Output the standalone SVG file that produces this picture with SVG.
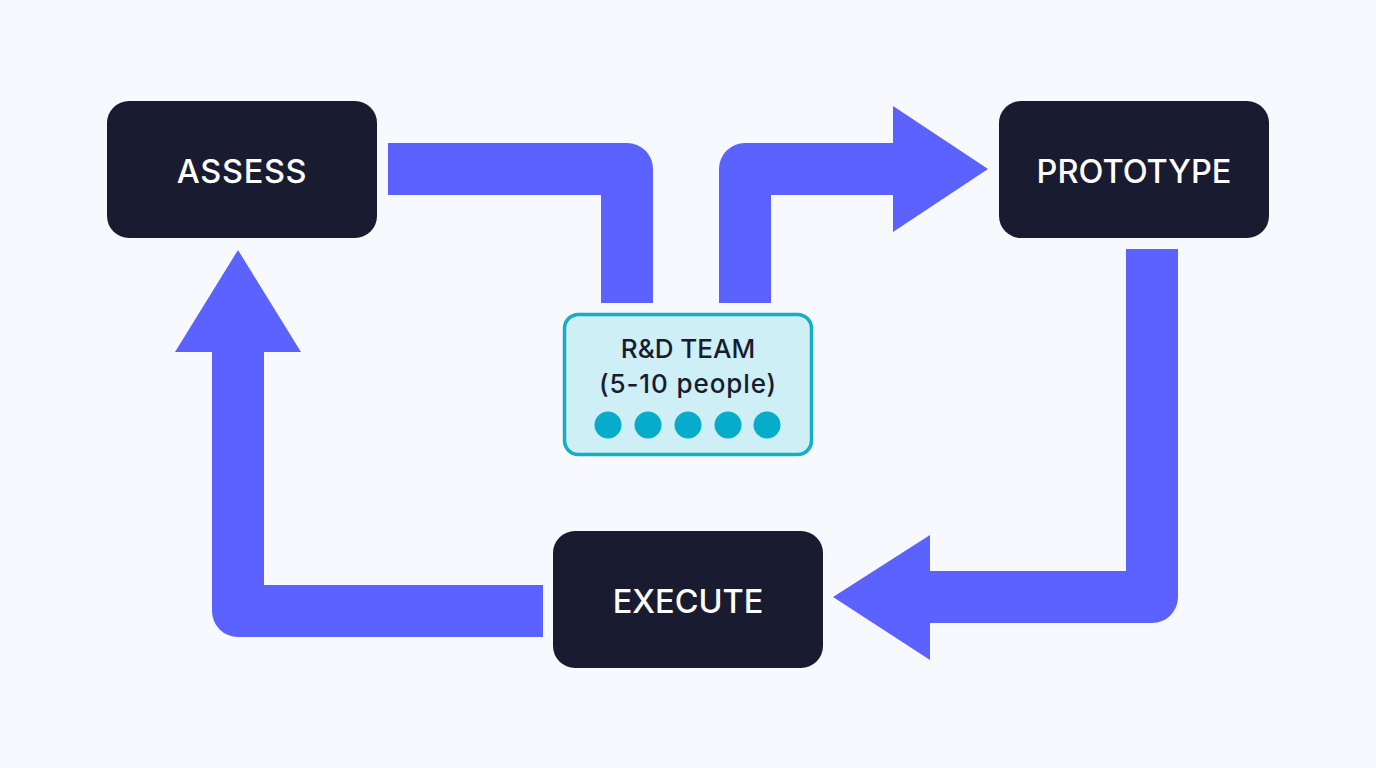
<svg xmlns="http://www.w3.org/2000/svg" width="1376" height="768" viewBox="0 0 1376 768">
<style>
.n{fill:#191c30}
.a{fill:#5b62ff}
.t{font-family:"Inter","Liberation Sans",sans-serif;font-size:32.500px;fill:#fff;text-anchor:middle;font-weight:450}
.c{font-family:"Inter","Liberation Sans",sans-serif;font-size:26px;fill:#191c30;text-anchor:middle;font-weight:450}
.d{fill:#06acca}
</style>
<rect width="1376" height="768" fill="#f8f9fe"/>
<g id="connectors">
<path class="a" d="M388 143H627A26 26 0 0 1 653 169V303H601V195H388Z"/>
<path class="a" d="M719 303V169A26 26 0 0 1 745 143H893V106L988 169L893 232V195H771V303Z"/>
<path class="a" d="M1126 249H1178V597A26 26 0 0 1 1152 623H930V660L833 597L930 535V571H1126Z"/>
<path class="a" d="M543 637H238A26 26 0 0 1 212 611V352H175L238 250L301 352H264V585H543Z"/>
</g>
<g id="assess"><rect class="n" x="107" y="101" width="270" height="137" rx="22"/><text class="t" x="242" y="183" letter-spacing=".7">ASSESS</text></g>
<g id="prototype"><rect class="n" x="999" y="101" width="270" height="137" rx="22"/><text class="t" x="1134" y="183">PROTOTYPE</text></g>
<g id="execute"><rect class="n" x="553" y="531" width="270" height="137" rx="22"/><text class="t" x="688" y="613">EXECUTE</text></g>
<g id="team"><rect x="564.500" y="314.500" width="247" height="140" rx="14" fill="#cdeff5" stroke="#14aec8" stroke-width="3.500"/>
<text class="c" x="688" y="358">R&amp;D TEAM</text><text class="c" x="688" y="393" letter-spacing=".9">(5-10 people)</text>
<circle class="d" cx="608" cy="425" r="13.500"/><circle class="d" cx="648" cy="425" r="13.500"/><circle class="d" cx="688" cy="425" r="13.500"/><circle class="d" cx="728" cy="425" r="13.500"/><circle class="d" cx="767" cy="425" r="13.500"/></g>
</svg>
